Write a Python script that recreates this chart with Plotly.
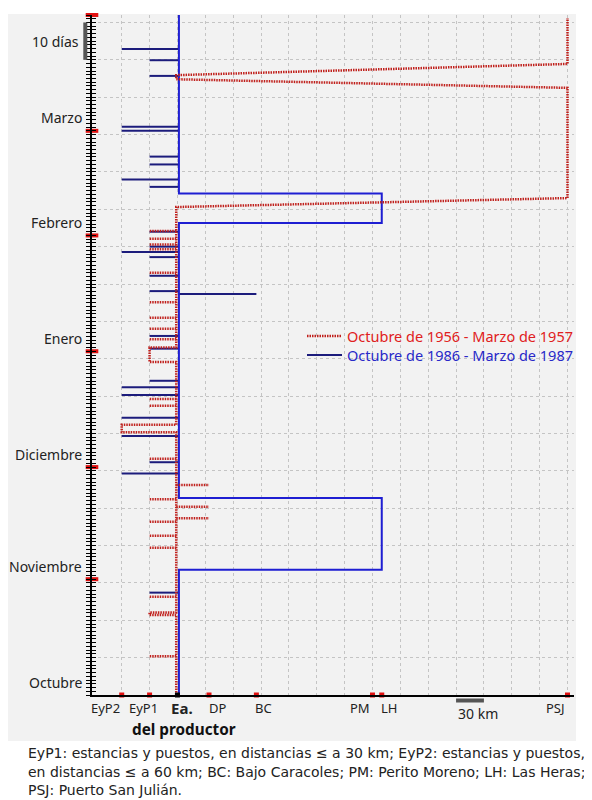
import plotly.graph_objects as go

# ---------------- data ----------------
# time axis: days since 1 October (season Oct -> Mar)
month_names = ["Octubre", "Noviembre", "Diciembre", "Enero", "Febrero", "Marzo"]
month_start_day = [0, 31, 61, 92, 123, 151]
season_end_day = 182

# places along the route (km from the producer's estancia)
loc_names = ["EyP2", "EyP1", "Ea.", "DP", "BC", "PM", "LH", "PSJ"]
loc_km = [-60, -30, 0, 34, 85, 210, 220, 420]

# Octubre 1956 - Marzo 1957 (red): stays (place, first day, last day)
red_stay_loc = ["Ea.", "EyP1", "Ea.", "EyP2", "Ea.", "EyP1", "Ea.", "PSJ", "Ea.", "PSJ"]
red_stay_start = [0, 21.4, 22.1, 70.3, 72.3, 89.1, 93.0, 133.0, 164.8, 168.9]
red_stay_end = [21.4, 22.1, 70.3, 72.3, 89.1, 93.0, 130.6, 162.5, 165.9, 181.2]
# same-day trips
red_trip_day = [10.4, 26.3, 39.4, 42.6, 46.4, 47.3, 50.4, 52.4, 56.2, 63.2, 77.4, 79.2,
                95.2, 98.0, 101.0, 105.1, 113.0, 119.3, 120.6, 122.1, 124.2]
red_trip_loc = ["EyP1", "EyP1", "EyP1", "EyP1", "EyP1", "DP", "DP", "EyP1", "DP", "EyP1", "EyP1", "EyP1",
                "EyP1", "EyP1", "EyP1", "EyP1", "EyP1", "EyP1", "EyP1", "EyP1", "EyP1"]

# Octubre 1986 - Marzo 1987 (blue)
blue_stay_loc = ["Ea.", "LH", "Ea.", "LH", "Ea."]
blue_stay_start = [0, 33.5, 52.7, 126.3, 134.2]
blue_stay_end = [33.5, 52.7, 126.3, 134.2, 182]
blue_trip_day = [27.4, 59.3, 62.3, 69.3, 74.2, 80.3, 82.4, 84.1, 92.7, 96.1, 107.3, 108.1,
                 112.2, 117.2, 118.6, 120.0, 124.0, 136.0, 138.0, 142.0, 144.1, 151.0, 152.1,
                 165.7, 169.9, 172.9]
blue_trip_loc = ["EyP1", "EyP2", "EyP1", "EyP2", "EyP2", "EyP2", "EyP2", "EyP1", "EyP1", "EyP1", "BC", "EyP1",
                 "EyP1", "EyP1", "EyP2", "EyP1", "EyP1", "EyP1", "EyP2", "EyP1", "EyP1", "EyP2", "EyP2",
                 "EyP1", "EyP1", "EyP2"]

scale_km = [300, 330]
scale_days = [170, 180]

caption_lines = ["EyP1: estancias y puestos, en distancias ≤ a 30 km; EyP2: estancias y puestos,",
                 "en distancias ≤ a 60 km; BC: Bajo Caracoles; PM: Perito Moreno; LH: Las Heras;",
                 "PSJ: Puerto San Julián."]

# ---------------- layout constants ----------------
W, H = 592, 800
PAGE = 8                      # browser body margin
ML, MR, MT, MB = 84, 26, 7, 113
PW, PH = W - ML - MR, H - MT - MB
X_RANGE = [-92, 427]
FONT = "Noto Sans"
CAPTION_FONT = "DejaVu Sans"
RED = "#c0201c"
BLUE_PATH = "#1e1ed2"
BLUE_TRIP = "#1c1c7c"
EA_OFFSET = {"red": -1.3, "blue": 1.6}


def px_x(px):   # page pixel -> paper x
    return (px - PAGE - ML) / PW


def px_y(py):   # page pixel -> paper y
    return (H - MB - (py - PAGE)) / PH


kmap = dict(zip(loc_names, loc_km))


def xpos(loc, series):
    return kmap[loc] + (EA_OFFSET[series] if loc == "Ea." else 0)


def path(locs, starts, ends, series):
    xs, ys = [], []
    for l, s, e in zip(locs, starts, ends):
        xs += [xpos(l, series), xpos(l, series)]
        ys += [s, e]
    return xs, ys


def trips(days, locs, series):
    xs, ys = [], []
    for d, l in zip(days, locs):
        xs += [xpos("Ea.", series), xpos(l, series), None]
        ys += [d, d, None]
    return xs, ys


fig = go.Figure()

bx, by = path(blue_stay_loc, blue_stay_start, blue_stay_end, "blue")
tbx, tby = trips(blue_trip_day, blue_trip_loc, "blue")
rx, ry = path(red_stay_loc, red_stay_start, red_stay_end, "red")
trx, try_ = trips(red_trip_day, red_trip_loc, "red")

fig.add_trace(go.Scatter(x=tbx, y=tby, mode="lines", line=dict(color=BLUE_TRIP, width=2),
                         name='<span style="color:#2828c8">Octubre de 1986 - Marzo de 1987</span>',
                         legend="legend2", hoverinfo="skip"))
fig.add_trace(go.Scatter(x=bx, y=by, mode="lines", line=dict(color=BLUE_PATH, width=2),
                         showlegend=False, hoverinfo="skip"))
fig.add_trace(go.Scatter(x=trx, y=try_, mode="lines", line=dict(color=RED, width=2.5, dash="1.5px,1px"),
                         showlegend=False, hoverinfo="skip"))
fig.add_trace(go.Scatter(x=rx, y=ry, mode="lines", line=dict(color=RED, width=2.5, dash="1.5px,1px"),
                         name='<span style="color:#e02020">Octubre de 1956 - Marzo de 1957</span>',
                         legend="legend", hoverinfo="skip"))

# location markers on the x axis
fig.add_trace(go.Scatter(x=loc_km, y=[0] * len(loc_km), mode="markers", cliponaxis=False,
                         marker=dict(symbol="square", size=5,
                                     color=["black" if n == "Ea." else "#e01010" for n in loc_names]),
                         showlegend=False, hoverinfo="skip"))
# month boundary markers on the y axis (on y2 so that axis is drawn)
fig.add_trace(go.Scatter(x=[X_RANGE[0]] * (len(month_start_day)), y=month_start_day[1:] + [season_end_day],
                         yaxis="y2", mode="markers", cliponaxis=False,
                         marker=dict(symbol="line-ew", size=9, line=dict(width=4, color="#e01010")),
                         showlegend=False, hoverinfo="skip"))

annotations = []
for name, d in zip(month_names, month_start_day):
    annotations.append(dict(text=name, xref="paper", x=0, xanchor="right", xshift=-8,
                            yref="y", y=d, yanchor="middle", yshift=13, showarrow=False,
                            font=dict(family=FONT, size=14, color="#222")))
annotations.append(dict(text="10 días", xref="paper", x=0, xanchor="right", xshift=-11,
                        yref="y", y=sum(scale_days) / 2, yanchor="middle", showarrow=False,
                        font=dict(family=FONT, size=14, color="#222")))

label_shift = {"EyP2": -16, "EyP1": -6, "Ea.": 5, "DP": 8.5, "BC": 7.6, "PM": -12, "LH": 7, "PSJ": -12.4}
for name, k in zip(loc_names, loc_km):
    if name == "Ea.":
        txt, fs = "<b>Ea.</b>", 15
    else:
        txt, fs = name, 13
    annotations.append(dict(text=txt, xref="x", x=k, xanchor="center", xshift=label_shift[name],
                            yref="paper", y=0, yanchor="middle", yshift=-13, showarrow=False,
                            font=dict(family=FONT, size=fs, color="#222")))
annotations.append(dict(text="<b>del productor</b>", xref="x", x=0, xanchor="center", xshift=6.5,
                        yref="paper", y=0, yanchor="middle", yshift=-34, showarrow=False,
                        font=dict(family=FONT, size=15.3, color="#111")))
annotations.append(dict(text="30 km", xref="x", x=scale_km[0], xanchor="left",
                        yref="paper", y=0, yanchor="middle", yshift=-18, showarrow=False,
                        font=dict(family=FONT, size=14, color="#222")))
for i, line in enumerate(caption_lines):
    annotations.append(dict(text=line, xref="paper", x=px_x(27), xanchor="left", align="left",
                            yref="paper", y=px_y(753 + 18.6 * i), yanchor="middle", showarrow=False,
                            borderpad=0, font=dict(family=CAPTION_FONT, size=14, color="#222")))

shapes = [
    dict(type="rect", xref="paper", yref="paper", x0=px_x(8), x1=px_x(576), y0=px_y(741), y1=px_y(14),
         fillcolor="#f2f2f2", line=dict(width=0), layer="below"),
    dict(type="line", xref="paper", yref="y", x0=px_x(85.3), x1=px_x(85.3), y0=scale_days[0], y1=scale_days[1],
         line=dict(color="#555", width=4)),
    dict(type="line", xref="x", yref="paper", x0=scale_km[0], x1=scale_km[1], y0=px_y(700.5), y1=px_y(700.5),
         line=dict(color="#555", width=4)),
]

legend_style = dict(xanchor="left", yanchor="middle", bgcolor="rgba(0,0,0,0)",
                    font=dict(family=FONT, size=14.5), itemwidth=35)

fig.update_layout(
    width=W, height=H,
    margin=dict(l=ML, r=MR, t=MT, b=MB),
    paper_bgcolor="white", plot_bgcolor="#f2f2f2",
    font=dict(family=FONT, size=13, color="#222"),
    xaxis=dict(range=X_RANGE, tickvals=list(range(-60, 421, 30)), showticklabels=False, ticks="",
               showgrid=True, gridcolor="#c4c4c4", griddash="dot", gridwidth=1,
               zeroline=False, showline=True, linecolor="black", linewidth=1.5),
    yaxis=dict(range=[0, season_end_day], tick0=0, dtick=10, showticklabels=False,
               showgrid=True, gridcolor="#c4c4c4", griddash="dot", gridwidth=1,
               ticks="outside", ticklen=4, tickcolor="black", tickwidth=1,
               minor=dict(tick0=0, dtick=1, ticks="outside", ticklen=4, tickcolor="black", tickwidth=1,
                          showgrid=False),
               zeroline=False, showline=True, linecolor="black", linewidth=1.5),
    yaxis2=dict(range=[0, season_end_day], overlaying="y", anchor="x", side="left",
                tick0=0, dtick=1, ticks="inside", ticklen=4, tickcolor="black", tickwidth=1,
                showticklabels=False, showgrid=False, zeroline=False, showline=False),
    legend=dict(x=px_x(302), y=px_y(336), **legend_style),
    legend2=dict(x=px_x(302), y=px_y(355), **legend_style),
    annotations=annotations,
    shapes=shapes,
)

fig.write_html("out.html")
